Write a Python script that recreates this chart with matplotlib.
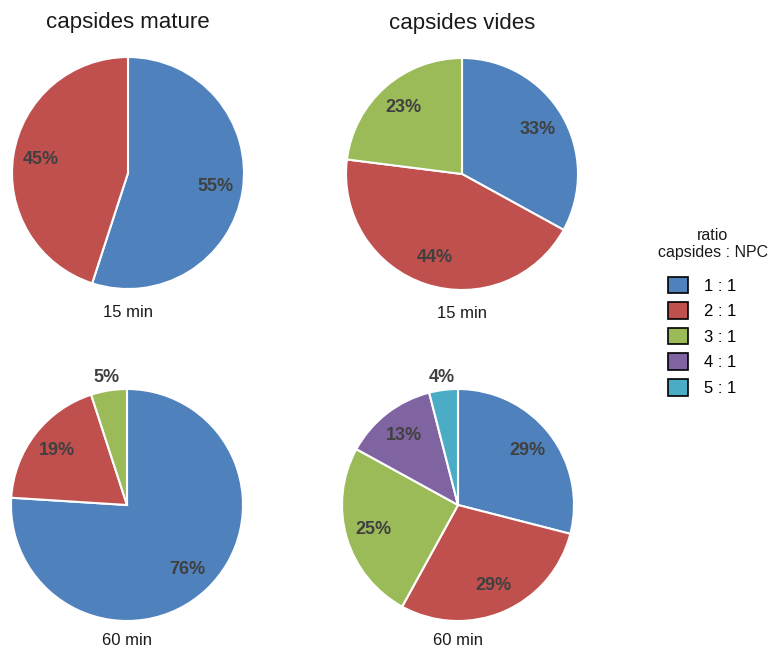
import numpy as np
import matplotlib.pyplot as plt
from matplotlib.patches import Patch

plt.rcParams['font.family'] = ['Liberation Sans', 'DejaVu Sans']

ratio_labels = ['1 : 1', '2 : 1', '3 : 1', '4 : 1', '5 : 1']
colors = ['#4F81BD', '#C0504D', '#9BBB59', '#8064A2', '#4BACC6']

mature_15 = [55, 45]
vides_15 = [33, 44, 23]
mature_60 = [76, 19, 5]
vides_60 = [29, 29, 25, 13, 4]

W, H = 769, 648
fig = plt.figure(figsize=(W / 100, H / 100), dpi=100)


def pie_at(cx, cy, r, values, sublabel, sub_y, title=None):
    # place a square axes so the pie lands at pixel centre (cx, cy)
    ax = fig.add_axes([(cx - r) / W, (H - cy - r) / H, 2 * r / W, 2 * r / H])
    wedges, texts = ax.pie(values, colors=colors[:len(values)], startangle=90,
                           counterclock=False, radius=1.0,
                           wedgeprops=dict(edgecolor='white', linewidth=1.5))
    for w, v in zip(wedges, values):
        ang = np.deg2rad((w.theta1 + w.theta2) / 2)
        d = 0.76 if v > 8 else 1.11
        ax.text(d * np.cos(ang), d * np.sin(ang), '%d%%' % v, ha='center', va='center',
                fontsize=13, fontweight='bold', color='#404040')
    ax.set_xlim(-1, 1)
    ax.set_ylim(-1, 1)
    ax.set_aspect('equal')
    ax.text(0, sub_y, sublabel, ha='center', va='center', fontsize=12, color='#1a1a1a')
    if title:
        ax.text(0, 1.30, title, ha='center', va='center', fontsize=16, color='#1a1a1a')


pie_at(128, 173, 116, mature_15, '15 min', -1.2, 'capsides mature')
pie_at(462, 174, 116, vides_15, '15 min', -1.2, 'capsides vides')
pie_at(127, 505, 116, mature_60, '60 min', -1.165)
pie_at(458, 505, 116, vides_60, '60 min', -1.165)

fig.text(713 / W, 1 - 244 / H, 'ratio\ncapsides : NPC', ha='center', va='center',
         fontsize=11.5, color='#1a1a1a', linespacing=1.25)

handles = [Patch(facecolor=c, edgecolor='black', linewidth=1.2) for c in colors]
fig.legend(handles, ratio_labels, loc='upper left',
           bbox_to_anchor=(656 / W, 1 - 265 / H),
           frameon=False, fontsize=12,
           handlelength=1.2, handleheight=1.15, handletextpad=0.95,
           labelspacing=0.52, borderpad=0.2)

fig.savefig('out.png', dpi=100, facecolor='white')
